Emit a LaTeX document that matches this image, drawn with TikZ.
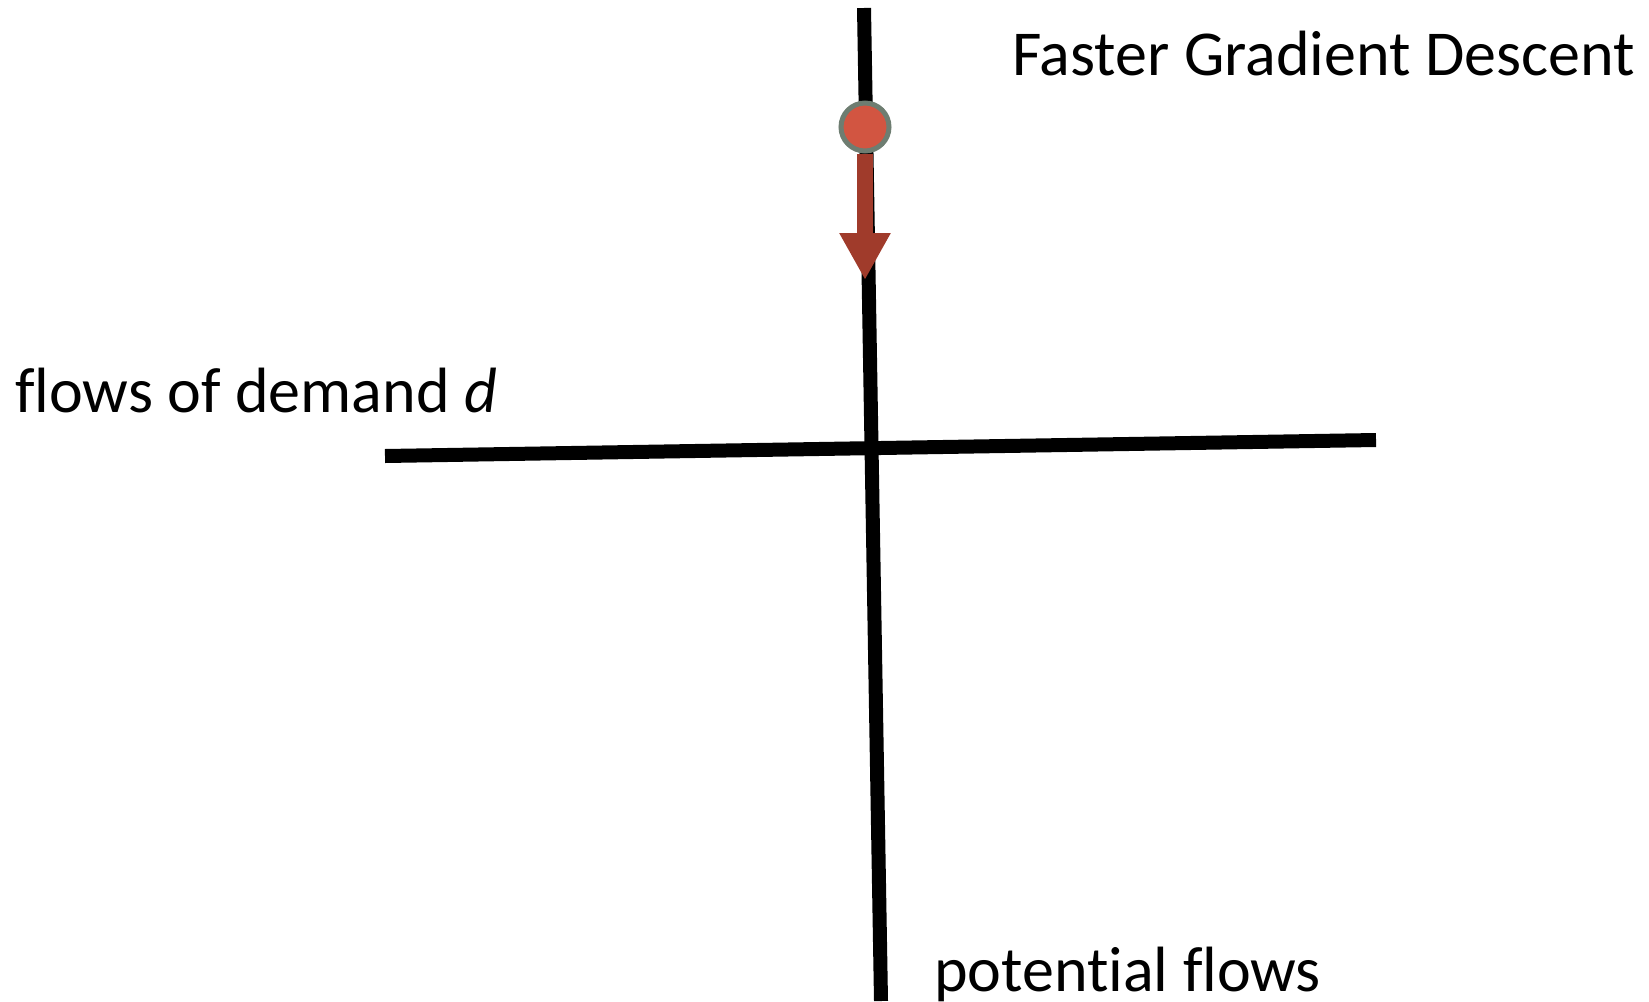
\documentclass[tikz,border=0pt]{standalone}
\usepackage{fontspec}
\setmainfont[Ligatures=NoCommon]{Carlito}
\usetikzlibrary{arrows.meta}
\definecolor{dotfill}{HTML}{D25541}
\definecolor{dotrim}{HTML}{6E7D71}
\definecolor{arrowred}{HTML}{A03B2B}
\begin{document}
\begin{tikzpicture}[x=1bp,y=-1bp,
  axis/.style={line width=14bp,black},
  lbl/.style={anchor=base west,inner sep=0pt,font=\fontsize{64bp}{76bp}\selectfont},
  ball/.style={circle,fill=dotfill,draw=dotrim,line width=5bp,minimum size=48bp,inner sep=0pt},
  move/.style={arrowred,line width=16bp,-{Triangle[width=48bp,length=47bp]}}]
\useasboundingbox (0,0) rectangle (1649,1001);
\coordinate (vtop) at (864,8);
\coordinate (vbot) at (881,1001);
\coordinate (hl) at (385,456);
\coordinate (hr) at (1376,440);
\draw[axis] (vtop) -- (vbot);
\draw[axis] (hl) -- (hr);
\node[ball] (dot) at (865,127) {};
\coordinate (tip) at (865,280);
\draw[move] (dot.south) -- (tip);
\node[lbl] (fgd) at (1012,75) {Faster Gradient Descent};
\node[lbl] (fd) at (15,412) {flows of demand \textit{d}};
\node[lbl] (pf) at (934,991) {potential flows};
\end{tikzpicture}
\end{document}
